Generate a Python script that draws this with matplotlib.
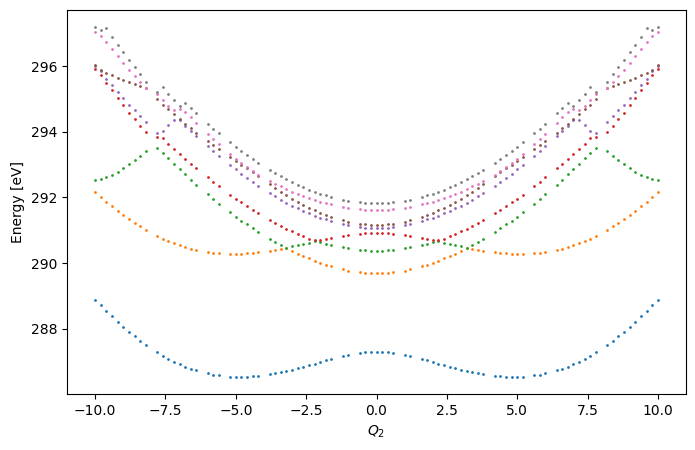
import matplotlib
matplotlib.use("Agg")
import matplotlib.pyplot as plt

q2 = [-10.0, -9.8, -9.6, -9.4, -9.2, -9.0, -8.8, -8.6, -8.4, -8.2, -7.8, -7.6, -7.4, -7.2, -7.0,
      -6.8, -6.6, -6.4, -6.0, -5.8, -5.6, -5.2, -5.0, -4.8, -4.6, -4.4, -4.2, -3.8, -3.6, -3.4,
      -3.2, -3.0, -2.8, -2.6, -2.4, -2.2, -2.0, -1.8, -1.6, -1.2, -1.0, -0.6, -0.4, -0.2, 0.0,
      0.2, 0.4, 0.6, 1.0, 1.2, 1.6, 1.8, 2.0, 2.2, 2.4, 2.6, 2.8, 3.0, 3.2, 3.4, 3.6, 3.8,
      4.2, 4.4, 4.6, 4.8, 5.0, 5.2, 5.6, 5.8, 6.0, 6.4, 6.6, 6.8, 7.0, 7.2, 7.4, 7.6, 7.8,
      8.2, 8.4, 8.6, 8.8, 9.0, 9.2, 9.4, 9.6, 9.8, 10.0]

state_0 = [288.87, 288.72, 288.54, 288.39, 288.20, 288.05, 287.90, 287.78, 287.63, 287.50,
           287.29, 287.17, 287.08, 286.99, 286.93, 286.83, 286.77, 286.74, 286.65, 286.59,
           286.59, 286.55, 286.55, 286.55, 286.55, 286.57, 286.57, 286.62, 286.65, 286.68,
           286.72, 286.74, 286.80, 286.84, 286.90, 286.93, 286.99, 287.05, 287.08, 287.17,
           287.21, 287.26, 287.29, 287.29, 287.29,
           287.29, 287.29, 287.26, 287.21, 287.17, 287.08, 287.05, 286.99, 286.93, 286.90,
           286.84, 286.80, 286.74, 286.72, 286.68, 286.65, 286.62, 286.57, 286.57, 286.55,
           286.55, 286.55, 286.55, 286.59, 286.59, 286.65, 286.74, 286.77, 286.83, 286.93,
           286.99, 287.08, 287.17, 287.29, 287.50, 287.63, 287.78, 287.90, 288.05, 288.20,
           288.39, 288.54, 288.72, 288.87]

state_1 = [292.16, 292.01, 291.85, 291.73, 291.58, 291.46, 291.34, 291.22, 291.12, 291.00,
           290.82, 290.73, 290.67, 290.61, 290.55, 290.49, 290.42, 290.39, 290.33, 290.30,
           290.30, 290.27, 290.27, 290.27, 290.30, 290.30, 290.33, 290.36, 290.39, 290.42,
           290.45, 290.36, 290.27, 290.21, 290.15, 290.06, 290.00, 289.94, 289.91, 289.82,
           289.76, 289.72, 289.69, 289.69, 289.69,
           289.69, 289.69, 289.72, 289.76, 289.82, 289.91, 289.94, 290.00, 290.06, 290.15,
           290.21, 290.27, 290.36, 290.45, 290.42, 290.39, 290.36, 290.33, 290.30, 290.30,
           290.27, 290.27, 290.27, 290.30, 290.30, 290.33, 290.39, 290.42, 290.49, 290.55,
           290.61, 290.67, 290.73, 290.82, 291.00, 291.12, 291.22, 291.34, 291.46, 291.58,
           291.73, 291.85, 292.01, 292.16]

state_2 = [292.52, 292.55, 292.61, 292.67, 292.77, 292.89, 293.01, 293.13, 293.25, 293.41,
           293.50, 293.34, 293.19, 293.01, 292.86, 292.71, 292.52, 292.37, 292.10, 291.95,
           291.79, 291.55, 291.40, 291.28, 291.18, 291.06, 290.94, 290.73, 290.64, 290.55,
           290.45, 290.52, 290.55, 290.58, 290.61, 290.67, 290.64, 290.58, 290.55, 290.49,
           290.45, 290.39, 290.39, 290.36, 290.36,
           290.36, 290.39, 290.39, 290.45, 290.49, 290.55, 290.58, 290.64, 290.67, 290.61,
           290.58, 290.55, 290.52, 290.45, 290.55, 290.64, 290.73, 290.94, 291.06, 291.18,
           291.28, 291.40, 291.55, 291.79, 291.95, 292.10, 292.37, 292.52, 292.71, 292.86,
           293.01, 293.19, 293.34, 293.50, 293.41, 293.25, 293.13, 293.01, 292.89, 292.77,
           292.67, 292.61, 292.55, 292.52]

state_3 = [295.90, 295.72, 295.47, 295.26, 295.02, 294.80, 294.56, 294.38, 294.17, 293.98,
           293.85, 293.80, 293.62, 293.47, 293.31, 293.16, 293.01, 292.89, 292.61, 292.46,
           292.34, 292.07, 291.95, 291.85, 291.73, 291.61, 291.52, 291.31, 291.22, 291.12,
           291.03, 290.97, 290.88, 290.82, 290.74, 290.70, 290.70, 290.73, 290.76, 290.82,
           290.85, 290.88, 290.91, 290.91, 290.91,
           290.91, 290.91, 290.88, 290.85, 290.82, 290.76, 290.73, 290.70, 290.70, 290.74,
           290.82, 290.88, 290.97, 291.03, 291.12, 291.22, 291.31, 291.52, 291.61, 291.73,
           291.85, 291.95, 292.07, 292.34, 292.46, 292.61, 292.89, 293.01, 293.16, 293.31,
           293.47, 293.62, 293.80, 293.85, 293.98, 294.17, 294.38, 294.56, 294.80, 295.02,
           295.26, 295.47, 295.72, 295.90]

state_4 = [296.00, 295.84, 295.60, 295.41, 295.20, 295.02, 294.83, 294.65, 294.47, 294.29,
           293.95, 294.01, 294.20, 294.35, 294.35, 294.17, 294.01, 293.86, 293.56, 293.41,
           293.25, 292.98, 292.86, 292.71, 292.58, 292.46, 292.34, 292.13, 292.04, 291.91,
           291.82, 291.73, 291.67, 291.58, 291.52, 291.43, 291.37, 291.34, 291.28, 291.19,
           291.16, 291.10, 291.07, 291.07, 291.07,
           291.07, 291.07, 291.10, 291.16, 291.19, 291.28, 291.34, 291.37, 291.43, 291.52,
           291.58, 291.67, 291.73, 291.82, 291.91, 292.04, 292.13, 292.34, 292.46, 292.58,
           292.71, 292.86, 292.98, 293.25, 293.41, 293.56, 293.86, 294.01, 294.17, 294.35,
           294.35, 294.20, 294.01, 293.95, 294.29, 294.47, 294.65, 294.83, 295.02, 295.20,
           295.41, 295.60, 295.84, 296.00]

state_5 = [296.02, 295.88, 295.80, 295.72, 295.64, 295.57, 295.50, 295.44, 295.38, 295.32,
           294.99, 294.83, 294.68, 294.53, 294.38, 294.23, 294.10, 293.95, 293.71, 293.59,
           293.47, 293.22, 293.10, 293.00, 292.89, 292.77, 292.65, 292.40, 292.28, 292.16,
           292.07, 291.95, 291.85, 291.76, 291.67, 291.61, 291.52, 291.46, 291.40, 291.31,
           291.25, 291.19, 291.19, 291.16, 291.16,
           291.16, 291.19, 291.19, 291.25, 291.31, 291.40, 291.46, 291.52, 291.61, 291.67,
           291.76, 291.85, 291.95, 292.07, 292.16, 292.28, 292.40, 292.65, 292.77, 292.89,
           293.00, 293.10, 293.22, 293.47, 293.59, 293.71, 293.95, 294.10, 294.23, 294.38,
           294.53, 294.68, 294.83, 294.99, 295.32, 295.38, 295.44, 295.50, 295.57, 295.64,
           295.72, 295.80, 295.88, 296.02]

state_6 = [297.03, 296.93, 296.72, 296.51, 296.30, 296.08, 295.87, 295.69, 295.50, 295.32,
           295.14, 294.96, 294.77, 294.65, 294.68, 294.59, 294.44, 294.26, 293.92, 293.77,
           293.62, 293.31, 293.16, 293.04, 292.92, 292.80, 292.68, 292.49, 292.40, 292.34,
           292.25, 292.16, 292.10, 292.04, 291.98, 291.91, 291.85, 291.82, 291.79, 291.70,
           291.67, 291.64, 291.61, 291.61, 291.61,
           291.61, 291.61, 291.64, 291.67, 291.70, 291.79, 291.82, 291.85, 291.91, 291.98,
           292.04, 292.10, 292.16, 292.25, 292.34, 292.40, 292.49, 292.68, 292.80, 292.92,
           293.04, 293.16, 293.31, 293.62, 293.77, 293.92, 294.26, 294.44, 294.59, 294.68,
           294.65, 294.77, 294.96, 295.14, 295.32, 295.50, 295.69, 295.87, 296.08, 296.30,
           296.51, 296.72, 296.93, 297.03]

state_7 = [297.19, 297.09, 297.15, 296.87, 296.63, 296.42, 296.17, 295.96, 295.75, 295.53,
           295.20, 295.35, 295.14, 294.96, 294.77, 294.87, 294.71, 294.56, 294.23, 294.07,
           293.95, 293.68, 293.53, 293.41, 293.28, 293.16, 293.04, 292.83, 292.74, 292.64,
           292.55, 292.46, 292.37, 292.31, 292.22, 292.16, 292.10, 292.07, 292.01, 291.91,
           291.88, 291.85, 291.82, 291.82, 291.82,
           291.82, 291.82, 291.85, 291.88, 291.91, 292.01, 292.07, 292.10, 292.16, 292.22,
           292.31, 292.37, 292.46, 292.55, 292.64, 292.74, 292.83, 293.04, 293.16, 293.28,
           293.41, 293.53, 293.68, 293.95, 294.07, 294.23, 294.56, 294.71, 294.87, 294.77,
           294.96, 295.14, 295.35, 295.20, 295.53, 295.75, 295.96, 296.17, 296.42, 296.63,
           296.87, 297.15, 297.09, 297.19]

states = [state_0, state_1, state_2, state_3, state_4, state_5, state_6, state_7]

fig = plt.figure(figsize=(6.95, 4.5), dpi=100)
ax = fig.add_axes([67 / 695, 1 - 394 / 450, (686 - 67) / 695, (394 - 9.5) / 450])
for i, s in enumerate(states):
    ax.scatter(q2, s, s=1, color=f"C{i}")
ax.set_xlabel("$Q_2$")
ax.set_ylabel("Energy [eV]")
fig.savefig("out.png", dpi=100)
